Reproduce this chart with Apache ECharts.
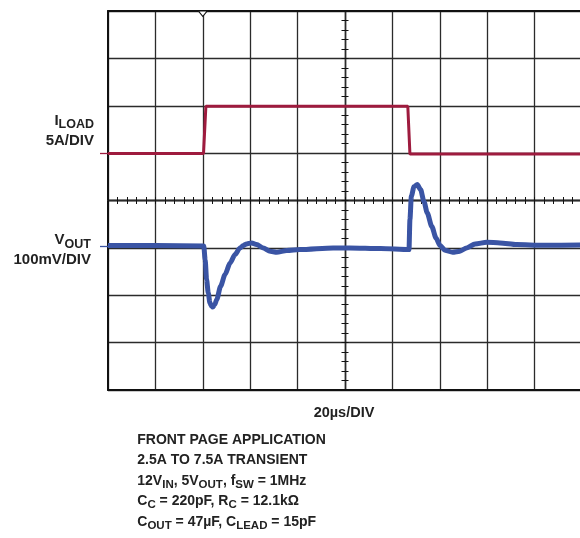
<!DOCTYPE html>
<html><head><meta charset="utf-8">
<script src="https://cdn.jsdelivr.net/npm/echarts@6/dist/echarts.min.js"></script>
<style>html,body{margin:0;padding:0;background:#fff}#c{width:580px;height:538px}</style>
</head><body><div id="c"></div>
<script>
// ---- data (time in µs, 20µs/div) ----
const timeRange = [0, 200];
const divisions = [0, 8];
// I_LOAD trace (A), 5A/div
const loadTime    = [0,    40.3, 41.3, 126.5, 127.4, 200];
const loadCurrent = [2.45, 2.45, 7.45, 7.45,  2.4,   2.4];
const loadAxisRange = [-22.5, 17.5];
// V_OUT deviation trace (mV), 100mV/div
const voutTime = [0, 20, 40.4, 41.0, 41.6, 42.3, 43.0, 43.6, 44.2, 45.0, 45.9, 47.5, 49.4, 51.5, 53.6, 55.7, 57.1, 58.5, 60.6, 62.7, 65.5, 68.4, 71.2, 75.4, 81, 95, 102, 115, 127.0, 127.4, 128.0, 129.1, 130.5, 131.9, 133.3, 134.7, 136.6, 138.4, 140.1, 142.2, 145.4, 148.5, 151.3, 154.9, 159.8, 165.4, 172.4, 183.7, 200];
const voutDev  = [5, 5, 4, -25, -67, -95, -116, -122, -125, -120, -109, -81, -56, -32, -14, 0, 5, 8.4, 10.5, 7, 0, -7, -9.3, -5.7, -3.6, 0, 0, -1.5, -3.6, 60, 109, 129, 133.6, 123, 98, 74, 45.6, 21, 4.9, -5, -9.3, -7, 0, 8.4, 11.8, 10.5, 7, 5.5, 6];
const voutAxisRange = [-300, 500];
// markers
const triggerTime = 40;
const loadRefLevel = [2.5];
const voutRefLevel = [3];
// text
const loadLabel = ['I', 'LOAD', '5A/DIV'];
const voutLabel = ['V', 'OUT', '100mV/DIV'];
const timeLabel = '20µs/DIV';
const noteLines = [
  '{n|FRONT PAGE APPLICATION}',
  '{n|2.5A TO 7.5A TRANSIENT}',
  '{n|12V}{s|IN}{n|, 5V}{s|OUT}{n|, f}{s|SW}{n| = 1MHz}',
  '{n|C}{s|C}{n| = 220pF, R}{s|C}{n| = 12.1kΩ}',
  '{n|C}{s|OUT}{n| = 47µF, C}{s|LEAD}{n| = 15pF}'
];

const RED = '#9e1b3e';
const BLUE = '#3a54a4';
const GRID = '#2b2b2b';
const FONT = '"Liberation Sans", Arial, Helvetica, sans-serif';

const loadData = loadTime.map((t, i) => [t, loadCurrent[i]]);
const voutData = voutTime.map((t, i) => [t, voutDev[i]]);

function rich(main, sub, shift) {
  return {
    n: {fontSize: main, fontWeight: 'bold', fontFamily: FONT, lineHeight: main + 4, verticalAlign: 'middle'},
    s: {fontSize: sub, fontWeight: 'bold', fontFamily: FONT, lineHeight: sub, padding: [shift * 2, 0, 0, 0], verticalAlign: 'middle'}
  };
}
function txt(text, x, y, align, main, sub, shift) {
  return {type: 'text', silent: true, z: 100, style: {
    legacy: false, text: text, x: x, y: y, align: align, verticalAlign: 'middle',
    fill: '#222', fontSize: main, fontWeight: 'bold', fontFamily: FONT,
    rich: rich(main, sub, shift)
  }};
}

const hiddenAxis = {axisLabel: {show: false}, splitLine: {show: false}};
function tickAxis(extra) {
  return Object.assign({
    type: 'value', axisLabel: {show: false}, splitLine: {show: false},
    axisLine: {show: true, onZero: false, lineStyle: {color: GRID, width: 1.3}},
  }, extra);
}

const chart = echarts.init(document.getElementById('c'), null, {renderer: 'canvas'});
const option = {
  animation: false,
  backgroundColor: '#fff',
  grid: {left: 108, top: 11, width: 474, height: 379, containLabel: false, outerBoundsMode: 'none'},
  xAxis: [
    {type: 'value', min: timeRange[0], max: timeRange[1], interval: 20, position: 'bottom',
     axisLine: {show: true, onZero: false, lineStyle: {color: '#111', width: 2}},
     axisTick: {show: false}, axisLabel: {show: false},
     splitLine: {show: true, lineStyle: {color: GRID, width: 1.3}}},
    {type: 'value', min: timeRange[0], max: timeRange[1], interval: 20, position: 'top',
     axisLine: {show: true, onZero: false, lineStyle: {color: '#111', width: 2}},
     axisTick: {show: false}, axisLabel: {show: false}, splitLine: {show: false}},
    tickAxis({min: timeRange[0], max: timeRange[1], interval: 20, position: 'bottom', offset: -189.5,
     axisTick: {show: true, inside: true, length: 3.5, lineStyle: {color: '#111', width: 1}},
     minorTick: {show: true, splitNumber: 5, length: 3.5, lineStyle: {color: '#111', width: 1}}}),
    tickAxis({min: timeRange[0], max: timeRange[1], interval: 20, position: 'bottom', offset: -189.5,
     axisTick: {show: true, inside: false, length: 3.5, lineStyle: {color: '#111', width: 1}},
     minorTick: {show: true, splitNumber: 5, length: 3.5, lineStyle: {color: '#111', width: 1}}})
  ],
  yAxis: [
    {type: 'value', min: divisions[0], max: divisions[1], interval: 1, position: 'left',
     axisLine: {show: true, onZero: false, lineStyle: {color: '#111', width: 2}},
     axisTick: {show: false}, axisLabel: {show: false},
     splitLine: {show: true, lineStyle: {color: GRID, width: 1.3}}},
    Object.assign({type: 'value', min: loadAxisRange[0], max: loadAxisRange[1], position: 'left',
     axisLine: {show: false, onZero: false},
     axisTick: {show: true, customValues: loadRefLevel, length: 8, lineStyle: {color: RED, width: 1.3}}}, hiddenAxis),
    Object.assign({type: 'value', min: voutAxisRange[0], max: voutAxisRange[1], position: 'left',
     axisLine: {show: false, onZero: false},
     axisTick: {show: true, customValues: voutRefLevel, length: 8, lineStyle: {color: BLUE, width: 1.3}}}, hiddenAxis),
    tickAxis({min: divisions[0], max: divisions[1], interval: 1, position: 'left', offset: -237,
     axisTick: {show: true, inside: true, length: 3.5, lineStyle: {color: '#111', width: 1}},
     minorTick: {show: true, splitNumber: 5, length: 3.5, lineStyle: {color: '#111', width: 1}}}),
    tickAxis({min: divisions[0], max: divisions[1], interval: 1, position: 'left', offset: -237,
     axisTick: {show: true, inside: false, length: 3.5, lineStyle: {color: '#111', width: 1}},
     minorTick: {show: true, splitNumber: 5, length: 3.5, lineStyle: {color: '#111', width: 1}}})
  ],
  series: [
    {type: 'line', name: 'ILOAD', xAxisIndex: 0, yAxisIndex: 1, data: loadData, showSymbol: false, symbol: 'none',
     lineStyle: {color: RED, width: 3}, z: 5, silent: true,
     markPoint: {silent: true, symbol: 'path://M0,0 L10,0 L5,6 Z', symbolSize: [9, 5.5], symbolOffset: [0, '50%'],
       itemStyle: {color: '#fff', borderColor: '#111', borderWidth: 1},
       label: {show: false},
       data: [{coord: [triggerTime, loadAxisRange[1]]}]}},
    {type: 'line', name: 'VOUT', xAxisIndex: 0, yAxisIndex: 2, data: voutData, showSymbol: false, symbol: 'none',
     smooth: 0.25, smoothMonotone: 'x',
     lineStyle: {color: BLUE, width: 5}, z: 4, silent: true}
  ],
  graphic: [
    txt('{n|' + loadLabel[0] + '}{s|' + loadLabel[1] + '}', 94, 120.5, 'right', 15, 12.5, 4.4),
    txt('{n|' + loadLabel[2] + '}', 94, 141.2, 'right', 15, 12.5, 4.4),
    txt('{n|' + voutLabel[0] + '}{s|' + voutLabel[1] + '}', 91, 240.3, 'right', 15, 12.5, 4.4),
    txt('{n|' + voutLabel[2] + '}', 91, 259.7, 'right', 15, 12.5, 4.4),
    txt('{n|' + timeLabel + '}', 344, 413, 'center', 14.5, 12, 3.5),
  ].concat(noteLines.map((l, i) => txt(l, 137.3, [439.7, 460.5, 481.2, 501.5, 522.2][i], 'left', 14, 11.5, 3.5)))
};
chart.setOption(option);
</script>
</body></html>
